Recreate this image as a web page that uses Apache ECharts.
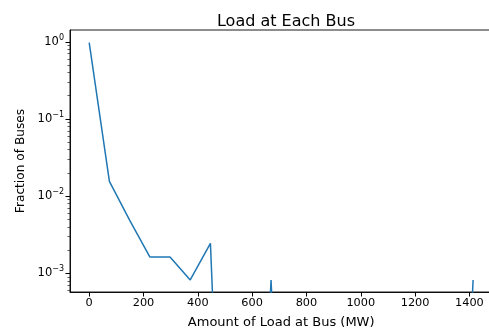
<!DOCTYPE html>
<html>
<head>
<meta charset="utf-8">
<script src="https://cdn.jsdelivr.net/npm/echarts@6/dist/echarts.min.js"></script>
<style>
  html, body { margin: 0; padding: 0; background: #fff; }
  #main { width: 489px; height: 330px; }
</style>
</head>
<body>
<div id="main"></div>
<script>
    // histogram bin left edges (MW) and fraction of buses in each bin
    var loads = [0, 74.4, 148.8, 223.2, 297.6, 372, 446.4, 520.8, 595.2, 669.6,
        744, 818.4, 892.8, 967.2, 1041.6, 1116, 1190.4, 1264.8, 1339.2, 1413.6];
    var fractions = [0.9714, 0.0155, 0.0049, 0.00163, 0.00163, 0.00082, 0.00245, 0, 0, 0.00082,
        0, 0, 0, 0, 0, 0, 0, 0, 0, 0.00082];
    var xTicks = [0, 200, 400, 600, 800, 1000, 1200, 1400];
    var yTicks = [0.001, 0.01, 0.1, 1];

    // minor ticks 2..9 in every decade (log axis)
    var yMinor = [];
    [0.0001, 0.001, 0.01, 0.1].forEach(function (d) {
        for (var k = 2; k <= 9; k++) yMinor.push(d * k);
    });

    // zeros cannot sit on a log axis: push them far below the floor so the line drops off
    var lineData = loads.map(function (x, i) {
        return [x, fractions[i] > 0 ? fractions[i] : 1e-9];
    });

    var yMin = 0.000573, yMax = 1.42;
    var font = 'DejaVu Sans';

    var myChart = echarts.init(document.getElementById('main'));
    var option = {
        animation: false,
        title: {
            text: 'Load at Each Bus',
            left: 281,
            textAlign: 'center',
            top: 9,
            textStyle: { fontFamily: font, fontSize: 16, fontWeight: 'normal', color: '#000' }
        },
        grid: {
            left: 70, top: 30, width: 422.4, height: 262,
            outerBoundsMode: 'none',
            show: true, borderColor: '#000', borderWidth: 0.9, backgroundColor: '#fff'
        },
        xAxis: {
            type: 'value',
            min: -70.7,
            max: 1484.7,
            name: 'Amount of Load at Bus (MW)',
            nameLocation: 'middle',
            nameGap: 24.5,
            nameTextStyle: { fontFamily: font, fontSize: 13, color: '#000' },
            axisLine: { show: true, onZero: false, lineStyle: { color: '#000', width: 0.9 } },
            axisTick: { show: true, length: 4.5, customValues: xTicks, lineStyle: { color: '#000' } },
            axisLabel: {
                customValues: xTicks, margin: 6,
                fontFamily: font, fontSize: 11.3, color: '#000',
                formatter: function (v) { return String(v); }
            },
            splitLine: { show: false }
        },
        yAxis: [{
            type: 'log',
            min: yMin,
            max: yMax,
            name: 'Fraction of Buses',
            nameLocation: 'middle',
            nameGap: 43,
            nameTextStyle: { fontFamily: font, fontSize: 12.2, color: '#000' },
            axisLine: { show: true, onZero: false, lineStyle: { color: '#000', width: 0.9 } },
            axisTick: { show: true, length: 4.5, customValues: yTicks, lineStyle: { color: '#000' } },
            axisLabel: {
                customValues: yTicks, margin: 6,
                fontFamily: font, fontSize: 11.5, color: '#000',
                formatter: function (v) {
                    var e = Math.round(Math.log10(v));
                    return '10{s|' + (e < 0 ? '\u2212' + (-e) : e) + '}';
                },
                rich: {
                    s: { fontFamily: font, fontSize: 8, padding: [0, 0, 8, 0], color: '#000' }
                }
            },
            splitLine: { show: false }
        }, {
            type: 'log',
            min: yMin,
            max: yMax,
            position: 'left',
            axisLine: { show: false, onZero: false },
            axisTick: { show: true, length: 2.6, customValues: yMinor, lineStyle: { color: '#000', width: 0.6 } },
            axisLabel: { show: false },
            splitLine: { show: false }
        }],
        series: [{
            type: 'line',
            data: lineData,
            yAxisIndex: 0,
            showSymbol: false,
            clip: true,
            lineStyle: { color: '#1f77b4', width: 1.5 },
            itemStyle: { color: '#1f77b4' }
        }]
    };
    myChart.setOption(option);
</script>
</body>
</html>
